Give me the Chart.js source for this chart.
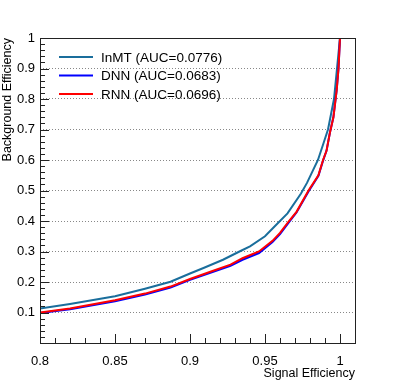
<!DOCTYPE html>
<html lang="en">
  <head>
    <meta charset="UTF-8" />
    <title>ROC curves</title>
    <script src="https://cdn.jsdelivr.net/npm/chart.js@4.4.1/dist/chart.umd.min.js"></script>
    <style>
      html, body { margin: 0; padding: 0; background: #fff; }
      #wrap { width: 395px; height: 382px; }
    </style>
  </head>
  <body>
    <div id="wrap"><canvas id="myChart" width="395" height="382"></canvas></div>

    <script>
      // values
      const seriesNames = ['InMT (AUC=0.0776)', 'DNN (AUC=0.0683)', 'RNN (AUC=0.0696)'];
      const xTicks = [0.8, 0.85, 0.9, 0.95, 1];
      const yTicks = [0.1, 0.2, 0.3, 0.4, 0.5, 0.6, 0.7, 0.8, 0.9, 1];

      const inmtX = [0.800, 0.820, 0.850, 0.870, 0.887, 0.900, 0.909, 0.922, 0.933, 0.940, 0.950, 0.958, 0.965, 0.974, 0.978, 0.9853, 0.989, 0.992, 0.996, 0.998, 1.000];
      const inmtY = [0.113, 0.128, 0.153, 0.178, 0.201, 0.228, 0.246, 0.273, 0.300, 0.317, 0.350, 0.390, 0.425, 0.490, 0.525, 0.600, 0.655, 0.700, 0.800, 0.900, 1.000];

      const dnnX = [0.800, 0.820, 0.850, 0.870, 0.887, 0.900, 0.915, 0.927, 0.935, 0.946, 0.955, 0.960, 0.966, 0.971, 0.979, 0.9856, 0.9887, 0.991, 0.9933, 0.9956, 0.9978, 0.999, 1.000];
      const dnnY = [0.098, 0.111, 0.137, 0.159, 0.182, 0.207, 0.233, 0.253, 0.273, 0.295, 0.331, 0.357, 0.396, 0.428, 0.497, 0.548, 0.598, 0.630, 0.690, 0.740, 0.830, 0.900, 1.000];

      const rnnX = [0.800, 0.820, 0.850, 0.870, 0.887, 0.900, 0.915, 0.927, 0.935, 0.946, 0.955, 0.960, 0.966, 0.971, 0.979, 0.9856, 0.9887, 0.991, 0.9933, 0.9956, 0.9978, 0.999, 1.000];
      const rnnY = [0.100, 0.113, 0.140, 0.162, 0.185, 0.210, 0.236, 0.257, 0.278, 0.300, 0.335, 0.361, 0.400, 0.430, 0.500, 0.550, 0.600, 0.630, 0.690, 0.740, 0.830, 0.900, 1.000];

      const colors = ['#1a6e9c', '#0000ff', '#ff0000'];

      function toPoints(xs, ys) {
        return xs.map((x, i) => ({ x: x, y: ys[i] }));
      }

      const FONT = '"Liberation Sans", Arial, sans-serif';

      // frame, inward ticks and legend, ROOT style
      const rootStyle = {
        id: 'rootStyle',
        afterDraw(chart) {
          const ctx = chart.ctx;
          const a = chart.chartArea;
          const xs = chart.scales.x;
          const ys = chart.scales.y;
          ctx.save();
          ctx.strokeStyle = '#222';
          ctx.lineWidth = 1;
          ctx.strokeRect(Math.round(a.left) + 0.5, Math.round(a.top) + 0.5,
            Math.round(a.right - a.left), Math.round(a.bottom - a.top));

          ctx.beginPath();
          for (let i = 0; i <= 21; i++) {
            const v = 0.8 + i * 0.01;
            const px = Math.round(xs.getPixelForValue(v)) + 0.5;
            if (px > a.right - 1) break;
            const len = (i % 5 === 0) ? 9 : 5;
            ctx.moveTo(px, a.bottom);
            ctx.lineTo(px, a.bottom - len);
          }
          for (let i = 0; i <= 50; i++) {
            const v = i * 0.02;
            const py = Math.round(ys.getPixelForValue(v)) + 0.5;
            const len = (i % 5 === 0) ? 9 : 5;
            ctx.moveTo(a.left, py);
            ctx.lineTo(a.left + len, py);
          }
          ctx.stroke();

          // legend
          ctx.font = '13.5px ' + FONT;
          ctx.textBaseline = 'middle';
          ctx.textAlign = 'left';
          chart.data.datasets.forEach((ds, i) => {
            const y = 57 + i * 18.5;
            ctx.strokeStyle = ds.borderColor;
            ctx.lineWidth = 2;
            ctx.beginPath();
            ctx.moveTo(59, y);
            ctx.lineTo(93, y);
            ctx.stroke();
            ctx.fillStyle = '#000';
            ctx.fillText(ds.label, 101, y + 1);
          });
          ctx.restore();
        }
      };

      const ctx = document.getElementById('myChart').getContext('2d');
      const myChart = new Chart(ctx, {
        type: 'line',
        data: {
          datasets: [
            { label: seriesNames[0], data: toPoints(inmtX, inmtY), borderColor: colors[0], order: 2 },
            { label: seriesNames[1], data: toPoints(dnnX, dnnY), borderColor: colors[1], order: 1 },
            { label: seriesNames[2], data: toPoints(rnnX, rnnY), borderColor: colors[2], order: 0 }
          ]
        },
        options: {
          responsive: false,
          animation: false,
          events: [],
          elements: {
            line: { borderWidth: 2, tension: 0, fill: false },
            point: { radius: 0 }
          },
          layout: { padding: { top: 38, right: 40, left: 0, bottom: 0 } },
          plugins: { legend: { display: false }, tooltip: { enabled: false } },
          scales: {
            x: {
              type: 'linear',
              min: 0.8,
              max: 1.01,
              afterBuildTicks: s => { s.ticks = xTicks.map(v => ({ value: v })); },
              afterFit: s => { s.height = 39; },
              grid: { display: false },
              border: { display: false },
              ticks: {
                color: '#000',
                padding: 3,
                maxRotation: 0,
                font: { family: FONT, size: 13 },
                callback: v => String(+v.toFixed(2))
              },
              title: {
                display: true,
                text: 'Signal Efficiency',
                align: 'end',
                color: '#000',
                font: { family: FONT, size: 12.5 },
                padding: { top: 0, bottom: 1 }
              }
            },
            y: {
              type: 'linear',
              min: 0,
              max: 1,
              afterBuildTicks: s => { s.ticks = yTicks.map(v => ({ value: v })); },
              afterFit: s => { s.width = 40; },
              grid: { color: '#888', lineWidth: 1, drawTicks: false },
              border: { display: false, dash: [1, 2] },
              ticks: {
                color: '#000',
                padding: 5,
                font: { family: FONT, size: 13 },
                callback: v => String(+v.toFixed(1))
              },
              title: {
                display: true,
                text: 'Background Efficiency',
                align: 'end',
                color: '#000',
                font: { family: FONT, size: 12.5 },
                padding: { top: 0, bottom: 0 }
              }
            }
          }
        },
        plugins: [rootStyle]
      });
    </script>
  </body>
</html>
